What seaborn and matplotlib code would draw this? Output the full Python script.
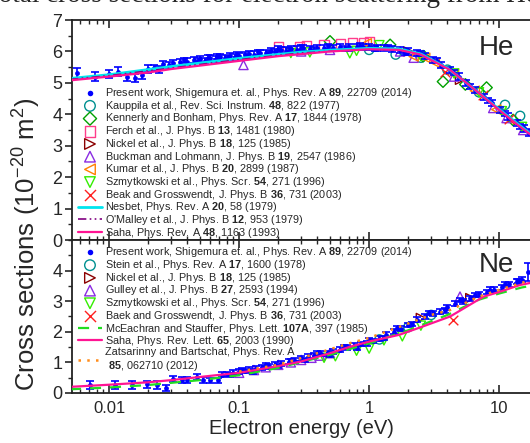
import matplotlib
matplotlib.use('Agg')
import matplotlib.pyplot as plt
import seaborn as sns
from matplotlib.ticker import MultipleLocator, LogLocator, NullFormatter

sns.set_theme(style='ticks')
plt.rcParams['font.family'] = ['Liberation Sans', 'DejaVu Sans']
plt.rcParams['mathtext.fontset'] = 'custom'
plt.rcParams['mathtext.rm'] = 'Liberation Sans'
plt.rcParams['mathtext.bf'] = 'Liberation Sans:bold'
plt.rcParams['mathtext.it'] = 'Liberation Sans:italic'

# ---------------- He data ----------------
he_pw_e = [0.0057, 0.0078, 0.0099, 0.0118, 0.0138, 0.0158, 0.0178, 0.020, 0.022, 0.024,
           0.026, 0.029, 0.031, 0.035, 0.040, 0.045, 0.050, 0.055, 0.060, 0.066,
           0.071, 0.078, 0.085, 0.093, 0.10, 0.11, 0.12, 0.13, 0.145, 0.16,
           0.175, 0.19, 0.21, 0.23, 0.25, 0.28, 0.31, 0.35, 0.40, 0.45,
           0.53, 0.60, 0.70, 0.80, 0.90, 1.0, 1.15, 1.3, 1.5, 1.73,
           2.0, 2.33, 2.7, 3.1, 3.6, 4.2, 4.9, 5.6, 6.5, 7.6,
           8.8, 10.2, 11.8, 13.7, 15.5, 17.0,
           0.038, 0.048, 0.058, 0.068, 0.082, 0.097, 0.115, 0.14, 0.17, 0.20,
           0.24, 0.30, 0.38, 0.48, 0.65, 0.85, 1.1, 1.4, 1.9, 2.5,
           3.3, 4.5, 6.0, 8.2, 11.0, 14.5]
he_pw_v = [5.31, 5.20, 5.29, 5.36, 5.20, 5.15, 5.25, 5.44, 5.47, 5.43,
           5.60, 5.57, 5.63, 5.65, 5.68, 5.73, 5.75, 5.70, 5.79, 5.76,
           5.82, 5.80, 5.84, 5.83, 5.86, 5.88, 5.92, 5.90, 5.94, 5.95,
           6.00, 5.98, 6.05, 6.03, 6.07, 6.06, 6.10, 6.08, 6.12, 6.10,
           6.12, 6.14, 6.13, 6.15, 6.14, 6.15, 6.12, 6.10, 6.08, 6.05,
           6.00, 5.94, 5.85, 5.73, 5.58, 5.41, 5.20, 4.99, 4.78, 4.56,
           4.35, 4.14, 3.93, 3.72, 3.55, 3.42,
           5.72, 5.70, 5.80, 5.85, 5.78, 5.90, 5.85, 5.98, 5.92, 6.08,
           6.02, 6.12, 6.05, 6.16, 6.10, 6.18, 6.08, 6.13, 5.98, 5.92,
           5.70, 5.32, 4.90, 4.45, 4.02, 3.62]
he_pw_err = [0.15, 0.15, 0.13, 0.13, 0.13, 0.12, 0.12, 0.12, 0.10, 0.10,
             0.10, 0.10, 0.10, 0.10, 0.10, 0.10, 0.10, 0.10, 0.10, 0.10,
             0.10, 0.10, 0.10, 0.10, 0.10, 0.10, 0.10, 0.10, 0.10, 0.10,
             0.10, 0.10, 0.10, 0.10, 0.10, 0.10, 0.10, 0.10, 0.10, 0.10,
             0.10, 0.10, 0.10, 0.10, 0.10, 0.10, 0.10, 0.10, 0.10, 0.10,
             0.10, 0.10, 0.10, 0.10, 0.10, 0.10, 0.10, 0.10, 0.10, 0.10,
             0.10, 0.10, 0.10, 0.10, 0.10, 0.10,
             0.08, 0.08, 0.08, 0.08, 0.08, 0.08, 0.08, 0.08, 0.08, 0.08,
             0.08, 0.08, 0.08, 0.08, 0.08, 0.08, 0.08, 0.08, 0.08, 0.08,
             0.08, 0.08, 0.08, 0.08, 0.08, 0.08]

he_kauppila_e = [1.0, 1.6, 2.5, 4.0, 7.0, 11.1, 14.5]
he_kauppila_v = [6.05, 5.90, 5.80, 5.42, 4.70, 4.30, 3.95]
he_kennerly_e = [0.5, 1.45, 2.6, 3.7, 5.5, 8.0, 12.8]
he_kennerly_v = [6.32, 6.21, 5.85, 5.04, 4.95, 4.85, 3.82]
he_ferch_e = [0.2, 0.29, 0.33, 0.45, 0.6, 0.75, 0.9, 1.0]
he_ferch_v = [6.15, 6.14, 6.20, 6.22, 6.25, 6.27, 6.27, 6.30]
he_nickel_e = [2.0, 5.0]
he_nickel_v = [6.00, 5.10]
he_buckman_e = [0.108, 0.3, 0.5, 1.73, 2.2, 4.5, 9.0, 11.4, 15.3]
he_buckman_v = [5.57, 6.00, 6.05, 6.00, 5.80, 5.20, 4.20, 3.88, 3.50]
he_kumar_e = [0.96, 2.2, 2.7, 3.2, 4.5, 6.5, 9.5]
he_kumar_v = [6.26, 5.84, 5.80, 5.65, 5.30, 4.75, 4.15]
he_szmyt_e = [0.25, 0.35, 0.71, 0.8, 1.2, 2.5, 4.5, 7.0, 10.5, 15.0]
he_szmyt_v = [5.95, 5.97, 5.94, 6.02, 6.20, 5.85, 5.30, 4.70, 4.10, 3.60]
he_beak_e = [3.84, 7.5, 12.0]
he_beak_v = [5.36, 4.60, 3.85]

he_nesbet_e = [0.005, 0.01, 0.03, 0.1, 0.3, 0.5, 1.0, 1.7, 2.5, 4.0, 6.0, 10.0, 17.5]
he_nesbet_v = [5.14, 5.26, 5.52, 5.78, 5.98, 6.04, 6.10, 6.08, 5.92, 5.47, 4.90, 4.16, 3.37]
he_omalley_e = [0.005, 0.01, 0.03, 0.1, 0.3, 0.6]
he_omalley_v = [5.11, 5.23, 5.47, 5.74, 5.95, 6.02]
he_saha_e = [0.005, 0.01, 0.02, 0.03, 0.05, 0.1, 0.2, 0.35, 0.5, 1.0, 1.7, 2.5, 4.2, 6.0, 10.0, 14.0, 17.5]
he_saha_v = [5.08, 5.20, 5.33, 5.44, 5.55, 5.70, 5.85, 5.94, 6.00, 6.07, 6.05, 5.90, 5.41, 4.90, 4.14, 3.65, 3.35]

# ---------------- Ne data ----------------
ne_pw_e = [0.0071, 0.0111, 0.015, 0.0195, 0.0233, 0.0274, 0.0312, 0.0363, 0.0396, 0.0473,
           0.0531, 0.0598, 0.0693, 0.0736, 0.08, 0.09, 0.10, 0.11, 0.12, 0.135,
           0.15, 0.17, 0.19, 0.21, 0.24, 0.27, 0.30, 0.34, 0.38, 0.43,
           0.48, 0.53, 0.60, 0.68, 0.76, 0.86, 0.96, 1.08, 1.2, 1.35,
           1.54, 1.75, 2.0, 2.33, 2.7, 3.1, 3.5, 4.0, 4.6, 5.3,
           6.0, 7.0, 8.0, 9.1, 10.5, 12.0, 13.7, 15.0, 16.7,
           0.085, 0.105, 0.128, 0.16, 0.2, 0.25, 0.32, 0.4, 0.5, 0.64,
           0.8, 1.0, 1.3, 1.65, 2.15, 2.9, 3.8, 5.0, 6.5, 8.5, 11.0, 14.0]
ne_pw_v = [0.26, 0.26, 0.26, 0.28, 0.26, 0.15, 0.45, 0.42, 0.42, 0.51,
           0.42, 0.42, 0.42, 0.59, 0.62, 0.66, 0.70, 0.72, 0.76, 0.80,
           0.84, 0.88, 0.92, 0.96, 1.02, 1.06, 1.13, 1.18, 1.22, 1.28,
           1.30, 1.35, 1.42, 1.50, 1.55, 1.60, 1.62, 1.70, 1.78, 1.90,
           2.00, 2.10, 2.22, 2.39, 2.50, 2.60, 2.66, 2.80, 2.92, 3.00,
           3.10, 3.22, 3.30, 3.37, 3.45, 3.55, 3.65, 3.70, 3.95,
           0.58, 0.74, 0.70, 0.90, 0.88, 1.05, 1.08, 1.30, 1.25, 1.50,
           1.48, 1.72, 1.80, 2.12, 2.25, 2.62, 2.70, 3.05, 3.20, 3.38, 3.55, 3.66]
ne_pw_err = [0.13, 0.13, 0.13, 0.12, 0.12, 0.10, 0.10, 0.10, 0.10, 0.10,
             0.10, 0.08, 0.08, 0.08, 0.08, 0.08, 0.08, 0.08, 0.08, 0.08,
             0.08, 0.08, 0.08, 0.08, 0.08, 0.08, 0.08, 0.08, 0.08, 0.08,
             0.08, 0.08, 0.08, 0.08, 0.08, 0.08, 0.08, 0.08, 0.08, 0.08,
             0.08, 0.08, 0.08, 0.08, 0.08, 0.08, 0.08, 0.08, 0.08, 0.08,
             0.08, 0.08, 0.08, 0.08, 0.08, 0.08, 0.08, 0.08, 0.30,
             0.07, 0.07, 0.07, 0.07, 0.07, 0.07, 0.07, 0.07, 0.07, 0.07,
             0.07, 0.07, 0.07, 0.07, 0.07, 0.07, 0.07, 0.07, 0.07, 0.07, 0.07, 0.07]

ne_stein_e = [1.2, 2.0, 3.0]
ne_stein_v = [1.75, 2.15, 2.55]
ne_nickel_e = [2.5, 6.0]
ne_nickel_v = [2.45, 3.10]
ne_gulley_e = [0.1, 0.13, 0.16, 0.2, 0.25, 0.3, 0.36, 0.42, 0.5, 5.0]
ne_gulley_v = [0.66, 0.75, 0.84, 0.92, 1.00, 1.08, 1.15, 1.22, 1.30, 3.15]
ne_szmyt_e = [0.45, 0.55, 0.8, 1.0, 1.3, 1.8, 2.5]
ne_szmyt_v = [1.15, 1.20, 1.38, 1.45, 1.72, 1.85, 2.20]
ne_baek_e = [4.4]
ne_baek_v = [2.38]

ne_mceachran_e = [0.005, 0.01, 0.02, 0.05, 0.1, 0.2, 0.5, 1.0, 2.0, 4.0, 7.0, 10.0, 15.0, 17.5]
ne_mceachran_v = [0.12, 0.18, 0.26, 0.42, 0.58, 0.82, 1.25, 1.62, 2.05, 2.55, 3.05, 3.25, 3.45, 3.50]
ne_saha_e = [0.005, 0.01, 0.02, 0.03, 0.06, 0.1, 0.2, 0.3, 0.5, 0.7, 1.0, 1.7, 2.5, 4.2, 7.6, 10.0, 14.5, 17.5]
ne_saha_v = [0.20, 0.27, 0.35, 0.42, 0.56, 0.66, 0.88, 1.03, 1.30, 1.50, 1.68, 1.90, 2.15, 2.50, 3.15, 3.30, 3.53, 3.60]
ne_zats_e = [0.1, 0.2, 0.4, 0.7, 1.0, 1.73, 3.0, 4.2, 7.0, 10.0, 15.0, 17.5]
ne_zats_v = [0.70, 0.92, 1.30, 1.62, 1.80, 2.17, 2.55, 2.71, 3.15, 3.37, 3.60, 3.70]

# labels
lab_pw = 'Present work, Shigemura et. al., Phys. Rev. A $\\mathbf{89}$, 22709 (2014)'

fig = plt.figure(figsize=(5.3, 4.43), dpi=100)
ax_he = fig.add_axes([0.136, 0.4582, 0.866, 0.4966])
ax_ne = fig.add_axes([0.136, 0.1129, 0.866, 0.3454])


def open_marker(ax, x, y, marker, color, label, size=44):
    sns.scatterplot(x=x, y=y, ax=ax, marker=marker, s=size, facecolors='none',
                    edgecolor=color, linewidth=1.0, label=label, zorder=3)


def x_marker(ax, x, y, color, label):
    sns.scatterplot(x=x, y=y, ax=ax, marker='x', s=48, color=color,
                    linewidth=1.0, label=label, zorder=3)


def present(ax, x, y, err):
    ax.errorbar(x, y, yerr=err, fmt='none', ecolor='#0000ff', elinewidth=1.2,
                capsize=3, capthick=1.2, zorder=4)
    sns.scatterplot(x=x, y=y, ax=ax, color='#0000ff', s=12, linewidth=0,
                    label=lab_pw, zorder=5)


# ---------------- He panel ----------------
present(ax_he, he_pw_e, he_pw_v, he_pw_err)
open_marker(ax_he, he_kauppila_e, he_kauppila_v, 'o', '#009090',
            'Kauppila et al., Rev. Sci. Instrum. $\\mathbf{48}$, 822 (1977)')
open_marker(ax_he, he_kennerly_e, he_kennerly_v, 'D', '#00a000',
            'Kennerly and Bonham, Phys. Rev. A $\\mathbf{17}$, 1844 (1978)', size=34)
open_marker(ax_he, he_ferch_e, he_ferch_v, 's', '#ff3d8b',
            'Ferch et al., J. Phys. B $\\mathbf{13}$, 1481 (1980)')
open_marker(ax_he, he_nickel_e, he_nickel_v, '>', '#8b0000',
            'Nickel et al., J. Phys. B $\\mathbf{18}$, 125 (1985)')
open_marker(ax_he, he_buckman_e, he_buckman_v, '^', '#8a2be2',
            'Buckman and Lohmann, J. Phys. B $\\mathbf{19}$, 2547 (1986)')
open_marker(ax_he, he_kumar_e, he_kumar_v, '<', '#ff8000',
            'Kumar et al., J. Phys. B $\\mathbf{20}$, 2899 (1987)')
open_marker(ax_he, he_szmyt_e, he_szmyt_v, 'v', '#33ee00',
            'Szmytkowski et al., Phys. Scr. $\\mathbf{54}$, 271 (1996)')
x_marker(ax_he, he_beak_e, he_beak_v, '#ff2020',
         'Beak and Grosswendt, J. Phys. B $\\mathbf{36}$, 731 (2003)')
sns.lineplot(x=he_nesbet_e, y=he_nesbet_v, ax=ax_he, color='#00e5ee', linewidth=2,
             label='Nesbet, Phys. Rev. A $\\mathbf{20}$, 58 (1979)', zorder=6)
sns.lineplot(x=he_omalley_e, y=he_omalley_v, ax=ax_he, color='#800080', linewidth=1.2,
             linestyle=(0, (5, 2, 1, 2, 1, 2)),
             label="O'Malley et al., J. Phys. B $\\mathbf{12}$, 953 (1979)", zorder=6)
sns.lineplot(x=he_saha_e, y=he_saha_v, ax=ax_he, color='#ff1493', linewidth=1.6,
             label='Saha, Phys. Rev. A $\\mathbf{48}$, 1163 (1993)', zorder=7)

# ---------------- Ne panel ----------------
present(ax_ne, ne_pw_e, ne_pw_v, ne_pw_err)
open_marker(ax_ne, ne_stein_e, ne_stein_v, 'o', '#009090',
            'Stein et al., Phys. Rev. A $\\mathbf{17}$, 1600 (1978)')
open_marker(ax_ne, ne_nickel_e, ne_nickel_v, '>', '#8b0000',
            'Nickel et al., J. Phys. B $\\mathbf{18}$, 125 (1985)')
open_marker(ax_ne, ne_gulley_e, ne_gulley_v, '^', '#8a2be2',
            'Gulley et al., J. Phys. B $\\mathbf{27}$, 2593 (1994)')
open_marker(ax_ne, ne_szmyt_e, ne_szmyt_v, 'v', '#33ee00',
            'Szmytkowski et al., Phys. Scr. $\\mathbf{54}$, 271 (1996)')
x_marker(ax_ne, ne_baek_e, ne_baek_v, '#ff2020',
         'Baek and Grosswendt, J. Phys. B $\\mathbf{36}$, 731 (2003)')
sns.lineplot(x=ne_mceachran_e, y=ne_mceachran_v, ax=ax_ne, color='#22dd22', linewidth=1.6,
             linestyle=(0, (5, 4)),
             label='McEachran and Stauffer, Phys. Lett. $\\mathbf{107A}$, 397 (1985)', zorder=6)
sns.lineplot(x=ne_saha_e, y=ne_saha_v, ax=ax_ne, color='#ff1493', linewidth=1.6,
             label='Saha, Phys. Rev. Lett. $\\mathbf{65}$, 2003 (1990)', zorder=7)
sns.lineplot(x=ne_zats_e, y=ne_zats_v, ax=ax_ne, color='#ff8c1a', linewidth=1.8,
             linestyle=(0, (1, 2.5)),
             label='Zatsarinny and Bartschat, Phys. Rev. A\n $\\mathbf{85}$, 062710 (2012)', zorder=7)

for ax in (ax_he, ax_ne):
    ax.set_xscale('log')
    ax.set_xlim(0.00519, 17.6)
    ax.xaxis.set_major_locator(LogLocator(base=10, numticks=10))
    ax.xaxis.set_minor_locator(LogLocator(base=10, subs=range(2, 10), numticks=20))
    ax.tick_params(axis='x', which='both', direction='in', top=True, bottom=True)
    ax.tick_params(axis='x', which='major', length=6, width=1.2)
    ax.tick_params(axis='x', which='minor', length=3, width=1.0)
    ax.tick_params(axis='y', which='major', direction='out', length=5, width=1.2,
                   labelsize=13, pad=2)
    ax.tick_params(axis='y', which='minor', direction='out', length=3, width=1.0)
    ax.yaxis.set_minor_locator(MultipleLocator(0.5))
    for sp in ax.spines.values():
        sp.set_linewidth(1.3)
        sp.set_color('#222222')
    ax.set_xlabel('')
    ax.set_ylabel('')

ax_he.set_ylim(0, 7)
ax_he.set_yticks(range(0, 8))
ax_he.xaxis.set_major_formatter(NullFormatter())
ax_he.xaxis.set_minor_formatter(NullFormatter())
ax_ne.set_ylim(0, 5)
ax_ne.set_yticks(range(0, 5))
ax_ne.set_xticks([0.01, 0.1, 1, 10], labels=['0.01', '0.1', '1', '10'])
ax_ne.xaxis.set_minor_formatter(NullFormatter())
ax_ne.tick_params(axis='x', labelsize=12, pad=6)
ax_ne.set_xlabel('Electron energy (eV)', fontsize=14.5, labelpad=2)

ax_he.text(0.886, 0.84, 'He', transform=ax_he.transAxes, fontsize=20)
ax_ne.text(0.886, 0.79, 'Ne', transform=ax_ne.transAxes, fontsize=20)

he_order = ['Present work', 'Kauppila', 'Kennerly', 'Ferch', 'Nickel', 'Buckman', 'Kumar',
            'Szmytkowski', 'Beak', 'Nesbet', "O'Malley", 'Saha']
ne_order = ['Present work', 'Stein', 'Nickel', 'Gulley', 'Szmytkowski', 'Baek',
            'McEachran', 'Saha', 'Zatsarinny']


def ordered_legend(ax, order, anchor):
    h, l = ax.get_legend_handles_labels()
    pairs = []
    for key in order:
        for hh, ll in zip(h, l):
            if ll.startswith(key):
                pairs.append((hh, ll))
                break
    ax.legend([p[0] for p in pairs], [p[1] for p in pairs], loc='upper left',
              bbox_to_anchor=anchor, frameon=False, fontsize=7.8, handlelength=2.2,
              handletextpad=0.25, labelspacing=-0.12, borderpad=0, borderaxespad=0,
              markerscale=1.15)


ordered_legend(ax_he, he_order, (0.013, 0.70))
ordered_legend(ax_ne, ne_order, (0.013, 0.965))

fig.text(-0.031, 1 - 2.5 / 443, 'Total cross sections for electron scattering from He and Ne',
         family=['Liberation Serif'], fontsize=19.5, va='baseline', ha='left')
fig.text(0.05, 0.449, 'Cross sections (10$^{-20}$ m$^2$)', rotation=90,
         fontsize=18.5, ha='center', va='center')

fig.savefig('out.png', dpi=100)
